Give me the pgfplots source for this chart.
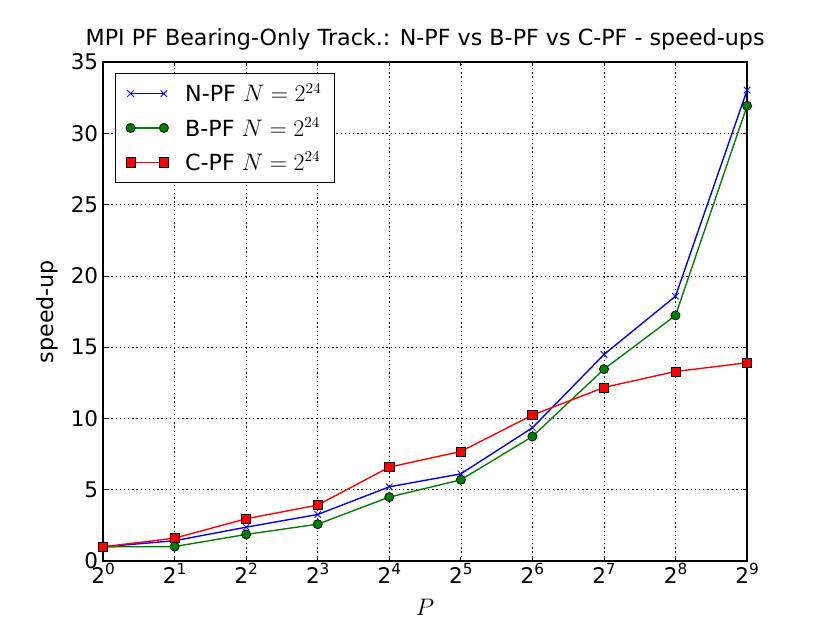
\documentclass[border=0pt]{standalone}
\usepackage{fontspec}
\setmainfont{DejaVu Sans}
\usepackage{pgfplots}
\pgfplotsset{compat=1.18}
\newcommand\pw[1]{2\raisebox{0.42em}{\fontsize{11bp}{12bp}\selectfont #1}}
\begin{document}
\begin{tikzpicture}
\begin{axis}[
  scale only axis,
  width=463.7bp, height=359.3bp,
  xmin=0, xmax=9, ymin=0, ymax=35,
  xtick={0,...,9},
  xticklabels={\pw{0},\pw{1},\pw{2},\pw{3},\pw{4},\pw{5},\pw{6},\pw{7},\pw{8},\pw{9}},
  ytick={0,5,...,35},
  /pgf/number format/assume math mode=true,
  ticklabel style={font=\fontsize{15.5bp}{17bp}\selectfont},
  xticklabel style={yshift=2bp},
  tick align=inside,
  major tick length=3bp,
  tick style={black, line width=0.6bp},
  axis line style={line width=1bp},
  grid=major,
  grid style={black, line width=0.5bp, dash pattern=on 1bp off 2bp},
  title={MPI PF Bearing-Only Track.: N-PF vs B-PF vs C-PF - speed-ups},
  title style={font=\fontsize{16bp}{18bp}\selectfont, at={(0.5,1)}, anchor=base, yshift=5.8bp},
  xlabel={$P$},
  xlabel style={font=\fontsize{17bp}{19bp}\selectfont, at={(0.5,0)}, anchor=base, yshift=-38.9bp},
  ylabel={speed-up},
  ylabel style={font=\fontsize{16bp}{18bp}\selectfont, at={(-0.087,0.5)}, anchor=center},
  legend cell align=left,
  legend image code/.code={\draw plot coordinates {(0bp,0bp) (24bp,0bp)};},
  legend style={at={(0,1)}, anchor=north west, xshift=8.6bp, yshift=-7.9bp,
    draw=black, line width=0.8bp, font=\fontsize{16bp}{18bp}\selectfont,
    inner xsep=7.5bp, inner ysep=5bp, row sep=6bp,
    /tikz/every odd column/.append style={column sep=10bp}},
]
\addplot[color=blue, line width=1bp, mark=x, mark size=3.3bp, mark options={line width=0.6bp}]
  coordinates {(0,1) (1,1.43) (2,2.38) (3,3.27) (4,5.21) (5,6.12) (6,9.35) (7,14.49) (8,18.58) (9,33.03)};
\addlegendentry{N-PF $N=2^{24}$}
\addplot[color={rgb,1:red,0;green,0.5;blue,0}, line width=1bp, mark=*, mark size=3.3bp,
  mark options={draw=black, fill={rgb,1:red,0;green,0.5;blue,0}, line width=0.5bp}]
  coordinates {(0,1) (1,1.02) (2,1.87) (3,2.59) (4,4.49) (5,5.70) (6,8.74) (7,13.46) (8,17.23) (9,31.93)};
\addlegendentry{B-PF $N=2^{24}$}
\addplot[color=red, line width=1bp, mark=square*, mark size=3.3bp,
  mark options={draw=black, fill=red, line width=0.5bp}]
  coordinates {(0,1) (1,1.61) (2,2.97) (3,3.93) (4,6.59) (5,7.69) (6,10.24) (7,12.18) (8,13.30) (9,13.91)};
\addlegendentry{C-PF $N=2^{24}$}
\end{axis}
\pgfresetboundingbox
\path (current axis.south west) ++(-74.2bp,-44.6bp) rectangle ++(597.6bp,448.6bp);
\end{tikzpicture}
\end{document}
